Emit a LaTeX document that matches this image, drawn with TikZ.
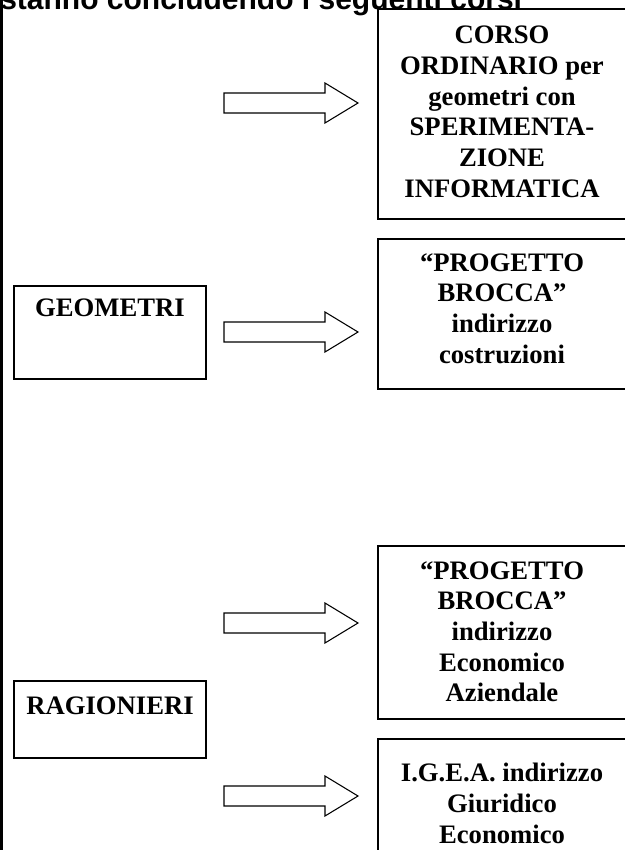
\documentclass[tikz,border=0pt]{standalone}
\usepackage{fontspec}
\setmainfont{Liberation Serif}
\newfontfamily\titlefont{Liberation Sans}
\begin{document}
\begin{tikzpicture}[x=0.75pt,y=-0.75pt,
  frame/.style={draw=black, line width=1.5pt, inner sep=0pt, anchor=north west},
  boxtxt/.style={align=center, inner sep=0pt, anchor=north, font=\bfseries\fontsize{20}{23}\selectfont},
  blk/.style={draw=black, line width=0.8pt, fill=white, line join=miter},
  titletxt/.style={anchor=base west, inner sep=0pt, font=\titlefont\bfseries\fontsize{22.5}{27}\selectfont}
]
\useasboundingbox (0,0) rectangle (625,850);
\begin{scope}
\clip (0,0) rectangle (625,850);
% title (cut off at the top)
\node[titletxt] (title) at (0,9) {stanno concludendo i seguenti corsi};
% left rule
\draw[line width=2.25pt] (1.5,0) -- (1.5,850);
% frames
\node[frame, minimum width=187.5pt, minimum height=157.5pt] (b1) at (377,8) {};
\node[frame, minimum width=187.5pt, minimum height=112.5pt] (b2) at (377,238) {};
\node[frame, minimum width=187.5pt, minimum height=129.75pt] (b3) at (377,545) {};
\node[frame, minimum width=187.5pt, minimum height=97.5pt] (b4) at (377,738) {};
\node[frame, minimum width=144pt, minimum height=69.75pt] (g) at (13,285) {};
\node[frame, minimum width=144pt, minimum height=57.75pt] (r) at (13,680) {};
% texts
\node[boxtxt] (t1) at (502,26) {CORSO\\ORDINARIO per\\geometri con\\SPERIMENTA-\\ZIONE\\INFORMATICA};
\node[boxtxt] (t2) at (502,253) {“PROGETTO\\BROCCA”\\indirizzo\\costruzioni};
\node[boxtxt] (t3) at (502,561) {“PROGETTO\\BROCCA”\\indirizzo\\Economico\\Aziendale};
\node[boxtxt] (t4) at (502,763) {I.G.E.A. indirizzo\\Giuridico\\Economico};
\node[boxtxt] (tg) at (g.north |- 0,299) {GEOMETRI};
\node[boxtxt] (tr) at (r.north |- 0,697) {RAGIONIERI};
% block arrows
\foreach \n/\yy in {a1/103,a2/332,a3/623,a4/796}{
  \coordinate (\n) at (224,\yy);
  \draw[blk] (\n) ++(0,-10) -- ++(101,0) -- ++(0,-10) -- ++(33,20) -- ++(-33,20) -- ++(0,-10) -- ++(-101,0) -- cycle;
}
\end{scope}
\end{tikzpicture}
\end{document}
